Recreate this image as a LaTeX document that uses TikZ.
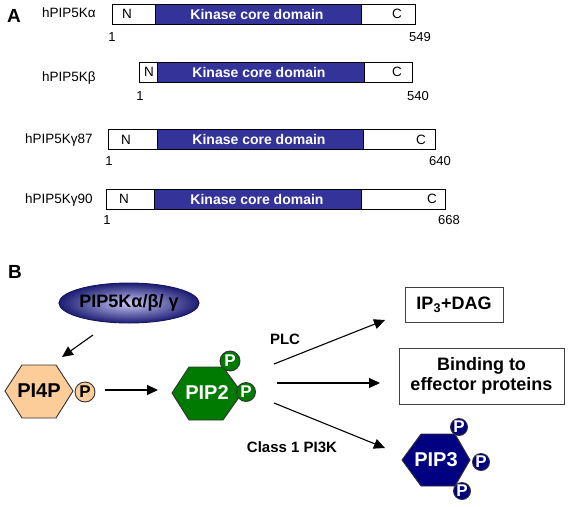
\documentclass[tikz,border=0pt]{standalone}
\usepackage{fontspec}
\setmainfont{Liberation Sans}
\usetikzlibrary{arrows.meta,shapes.geometric}
\definecolor{kin}{RGB}{51,51,153}
\definecolor{peach}{RGB}{252,204,153}
\definecolor{pgreen}{RGB}{0,122,0}
\definecolor{pnavy}{RGB}{0,0,128}
\definecolor{ellin}{RGB}{200,200,245}
\definecolor{ellout}{RGB}{28,28,115}
\tikzset{
  barline/.style={draw=black,line width=0.9pt},
  kinbox/.style={barline,fill=kin},
  whitebox/.style={barline,fill=white},
  kintxt/.style={text=white,font=\fontsize{14}{16}\selectfont\bfseries,inner sep=0pt},
  nctxt/.style={font=\fontsize{13.5}{16}\selectfont,inner sep=0pt},
  protlab/.style={font=\fontsize{13.5}{16}\selectfont,inner sep=0pt,anchor=west},
  numtxt/.style={font=\fontsize{13}{15}\selectfont,inner sep=0pt},
  paneltxt/.style={font=\fontsize{19}{22}\selectfont\bfseries,inner sep=0pt},
  hexbox/.style={draw=black!80,line width=0.9pt},
  hextxt/.style={font=\fontsize{20}{24}\selectfont\bfseries,inner sep=0pt},
  pcirc/.style={circle,draw=black!80,line width=0.9pt,inner sep=0pt,minimum size=19pt,font=\fontsize{17}{19}\selectfont\bfseries},
  arr/.style={line width=1.1pt,-{Triangle[length=11pt,width=10pt]}},
  lbl/.style={font=\fontsize{15}{17}\selectfont\bfseries,inner sep=0pt},
  outbox/.style={draw=black!75,line width=1pt,fill=white,font=\fontsize{18}{21}\selectfont\bfseries,align=center}
}
\begin{document}
\begin{tikzpicture}[x=1pt,y=-1pt]
\useasboundingbox[fill=white] (0,0) rectangle (572,506);

% ---------------- Panel A ----------------
\node[paneltxt] (labA) at (14,16) {A};

% alpha
\node[protlab] (la) at (42,13) {hPIP5Kα};
\draw[whitebox] (112,4) rectangle (415,24);
\draw[kinbox] (155,4) rectangle (361,24);
\node[kintxt] (ka) at (257,14) {Kinase core domain};
\node[nctxt] (na) at (127,14) {N};
\node[nctxt] (ca) at (397,14) {C};
\node[numtxt] (sa) at (112,37) {1};
\node[numtxt] (ea) at (420,37) {549};

% beta
\node[protlab] (lb) at (42,78) {hPIP5Kβ};
\draw[whitebox] (139,62) rectangle (412,82);
\draw[kinbox] (157,62) rectangle (364,82);
\node[kintxt] (kb) at (259,72) {Kinase core domain};
\node[nctxt] (nb) at (149,72) {N};
\node[nctxt] (cb) at (397,72) {C};
\node[numtxt] (sb) at (140,96) {1};
\node[numtxt] (eb) at (418,96) {540};

% gamma87
\node[protlab] (lg1) at (25,140) {hPIP5Kγ87};
\draw[whitebox] (108,129) rectangle (435,149);
\draw[kinbox] (157,129) rectangle (363,149);
\node[kintxt] (kg1) at (259,139) {Kinase core domain};
\node[nctxt] (ng1) at (126,140) {N};
\node[nctxt] (cg1) at (421,140) {C};
\node[numtxt] (sg1) at (109,161) {1};
\node[numtxt] (eg1) at (440,161) {640};

% gamma90
\node[protlab] (lg2) at (25,200) {hPIP5Kγ90};
\draw[whitebox] (106,189) rectangle (445,209);
\draw[kinbox] (154,189) rectangle (361,209);
\node[kintxt] (kg2) at (257,199) {Kinase core domain};
\node[nctxt] (ng2) at (124,199) {N};
\node[nctxt] (cg2) at (432,199) {C};
\node[numtxt] (sg2) at (107,220) {1};
\node[numtxt] (eg2) at (449,220) {668};

% ---------------- Panel B ----------------
\node[paneltxt] (labB) at (15,272) {B};

\node[ellipse,draw=ellout!80!black,line width=0.9pt,inner color=ellin,outer color=ellout,
      minimum width=132pt,minimum height=40pt,inner sep=0pt,
      font=\fontsize{18}{20}\selectfont\bfseries] (kinase) at (129,303) {PIP5Kα/β/ γ};

% PI4P
\draw[hexbox,fill=peach] (5,391) -- (22,365) -- (56,365) -- (73,391) -- (56,418) -- (22,418) -- cycle;
\node[hextxt] (pi4p) at (39,391) {PI4P};
\node[pcirc,fill=peach,minimum size=20pt] (p4) at (85,392) {P};

% PIP2
\draw[hexbox,fill=pgreen] (172,393) -- (189,367) -- (223,367) -- (242,393) -- (223,420) -- (189,420) -- cycle;
\node[hextxt,text=white] (pip2) at (207,393) {PIP2};
\node[pcirc,fill=pgreen,text=white,minimum size=20pt] (p2a) at (230,361) {P};
\node[pcirc,fill=pgreen,text=white] (p2b) at (246,392) {P};

% PIP3
\draw[hexbox,fill=pnavy] (402,460) -- (421,434) -- (455,434) -- (470,460) -- (455,486) -- (421,486) -- cycle;
\node[hextxt,text=white] (pip3) at (436,460) {PIP3};
\node[pcirc,fill=pnavy,text=white,minimum size=17pt] (p3a) at (459,427) {P};
\node[pcirc,fill=pnavy,text=white,minimum size=17pt] (p3b) at (481,462) {P};
\node[pcirc,fill=pnavy,text=white,minimum size=17pt] (p3c) at (462,491) {P};

% outputs
\node[outbox,minimum width=98pt,minimum height=35pt] (ip3) at (454,304.5) {IP\textsubscript{3}+DAG};
\node[outbox,minimum width=165pt,minimum height=56pt,inner sep=2pt] (bind) at (481.5,376) {Binding to\\[-1pt]effector proteins};

% labels
\node[lbl] (plc) at (285,339) {PLC};
\node[lbl] (pi3k) at (292,447) {Class 1 PI3K};

% arrow end points
\coordinate (a1s) at (93,335);
\coordinate (a1e) at (62,357);
\coordinate (a2s) at (105,390);
\coordinate (a2e) at (158,390);
\coordinate (a3s) at (274,364);
\coordinate (a3e) at (385,320);
\coordinate (a4s) at (277,383);
\coordinate (a4e) at (380,383);
\coordinate (a5s) at (274,403);
\coordinate (a5e) at (385,448);

\draw[arr] (a1s) -- (a1e);
\draw[arr] (a2s) -- (a2e);
\draw[arr] (a3s) -- (a3e);
\draw[arr] (a4s) -- (a4e);
\draw[arr] (a5s) -- (a5e);
\end{tikzpicture}
\end{document}
